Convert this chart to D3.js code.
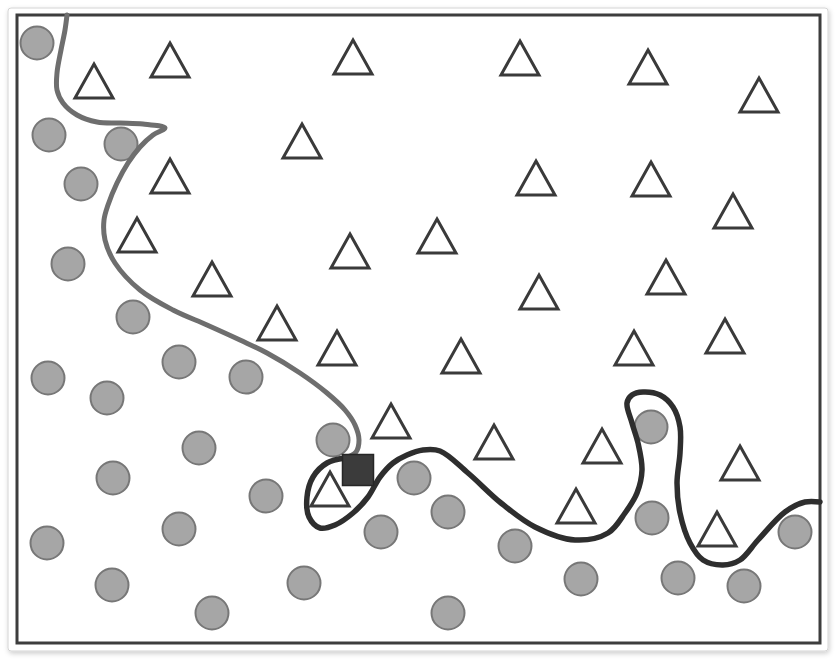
<!DOCTYPE html>
<html>
<head>
<meta charset="utf-8">
<script src="https://cdn.jsdelivr.net/npm/d3@7/dist/d3.min.js"></script>
<style>
  html, body { margin: 0; padding: 0; background: #ffffff; }
  svg { display: block; }
</style>
</head>
<body>
<svg id="chart" width="838" height="662"></svg>
<script>
// ---- Data (x, y in data units; y grows upward) ----
const circlesX = [2.0, 3.2, 10.4, 6.4, 5.1, 11.6, 3.1, 9.0, 16.2, 22.9, 18.2, 9.6, 24.9, 16.2, 3.0, 9.5, 19.5, 28.7, 31.6, 39.7, 43.1, 36.4, 49.8, 43.1, 56.4, 63.4, 63.5, 66.1, 72.7, 77.8];
const circlesY = [60.0, 50.8, 49.9, 45.9, 37.9, 32.6, 26.5, 24.5, 28.1, 26.6, 19.5, 16.5, 14.7, 11.4, 10.0, 5.8, 3.0, 6.0, 20.3, 16.5, 13.1, 11.1, 9.7, 3.0, 6.4, 21.6, 12.5, 6.5, 5.7, 11.1];

const trianglesX = [7.7, 15.3, 33.6, 28.5, 15.3, 12.0, 19.5, 33.3, 26.0, 50.3, 63.1, 74.2, 51.9, 63.4, 71.6, 42.0, 52.2, 64.9, 32.0, 37.4, 31.3, 44.4, 61.7, 70.8, 47.7, 58.5, 55.9, 72.3, 70.0];
const trianglesY = [56.2, 58.3, 58.6, 50.2, 46.7, 40.8, 36.4, 39.2, 32.0, 58.5, 57.6, 54.8, 46.5, 46.4, 43.2, 40.7, 35.1, 36.6, 29.5, 22.2, 15.4, 28.7, 29.5, 30.7, 20.1, 19.7, 13.7, 18.0, 11.4];

const squareX = [34.1];
const squareY = [17.3];

// decision boundary: upper (lighter) part and lower (darker) part
const boundaryUpperX = [5.0, 4.8, 4.4, 4.0, 4.0, 4.6, 6.0, 8.0, 10.3, 12.6, 14.8, 13.6, 12.3, 11.1, 10.0, 9.1, 8.7, 8.8, 9.8, 12.3, 15.6, 19.0, 22.3, 25.0, 28.3, 31.0, 32.8, 33.8, 34.2, 33.9, 32.8];
const boundaryUpperY = [62.8, 61.3, 59.3, 57.0, 55.3, 54.0, 52.8, 52.1, 52.0, 51.9, 51.5, 50.8, 49.6, 48.0, 46.0, 43.8, 42.3, 40.3, 38.0, 35.3, 33.3, 31.8, 30.3, 29.0, 27.0, 25.0, 23.3, 21.8, 20.3, 19.1, 18.5];

const boundaryLowerX = [32.8, 31.0, 29.6, 29.0, 29.2, 30.3, 31.8, 33.6, 35.1, 36.3, 37.6, 39.0, 40.6, 42.3, 45.1, 48.4, 51.8, 55.8, 59.1, 60.8, 62.0, 62.5, 62.1, 61.5, 61.0, 61.5, 62.6, 64.3, 65.6, 66.3, 66.3, 66.0, 66.3, 67.3, 68.6, 70.6, 72.3, 74.1, 76.8, 78.8, 80.3];
const boundaryLowerY = [18.5, 18.0, 16.6, 14.6, 12.6, 11.5, 11.8, 13.0, 14.6, 16.6, 18.0, 18.8, 19.3, 19.2, 17.0, 14.0, 11.6, 10.3, 11.0, 13.0, 15.0, 17.3, 20.0, 22.0, 24.0, 24.8, 25.1, 24.8, 23.6, 21.6, 19.0, 16.0, 13.0, 10.0, 8.3, 7.8, 8.3, 10.3, 13.1, 14.1, 14.1];

const xDomain = [0, 80.3];
const yDomain = [0, 62.8];

// ---- Drawing ----
const svg = d3.select("#chart");
const defs = svg.append("defs");
const flt = defs.append("filter").attr("id", "shadow")
  .attr("x", "-5%").attr("y", "-5%").attr("width", "110%").attr("height", "110%");
flt.append("feDropShadow").attr("dx", 1).attr("dy", 2).attr("stdDeviation", 2.5)
  .attr("flood-color", "#000").attr("flood-opacity", 0.2);

// card
svg.append("rect")
  .attr("x", 8).attr("y", 8).attr("width", 820).attr("height", 643)
  .attr("rx", 3)
  .attr("fill", "#ffffff").attr("stroke", "#d4d4d4").attr("stroke-width", 1)
  .attr("filter", "url(#shadow)");

const x = d3.scaleLinear().domain(xDomain).range([17, 820]);
const y = d3.scaleLinear().domain(yDomain).range([643, 15]);

// frame
svg.append("rect")
  .attr("x", x.range()[0]).attr("y", y.range()[1])
  .attr("width", x.range()[1] - x.range()[0])
  .attr("height", y.range()[0] - y.range()[1])
  .attr("fill", "none").attr("stroke", "#3d3d3d").attr("stroke-width", 3);

const line = d3.line()
  .x(d => x(d[0])).y(d => y(d[1]))
  .curve(d3.curveCatmullRom.alpha(0.5));

const upper = boundaryUpperX.map((v, i) => [v, boundaryUpperY[i]]);
const lower = boundaryLowerX.map((v, i) => [v, boundaryLowerY[i]]);

// circles
svg.append("g").selectAll("circle")
  .data(circlesX.map((v, i) => [v, circlesY[i]]))
  .join("circle")
  .attr("cx", d => x(d[0])).attr("cy", d => y(d[1]))
  .attr("r", 16.5)
  .attr("fill", "#a6a6a6").attr("stroke", "#777777").attr("stroke-width", 2);

// triangles
const tw = 38, th = 34;
const triPath = `M0,${-th/2}L${tw/2},${th/2}L${-tw/2},${th/2}Z`;
svg.append("g").selectAll("path")
  .data(trianglesX.map((v, i) => [v, trianglesY[i]]))
  .join("path")
  .attr("d", triPath)
  .attr("transform", d => `translate(${x(d[0])},${y(d[1])})`)
  .attr("fill", "#ffffff").attr("stroke", "#3a3a3a").attr("stroke-width", 3)
  .attr("stroke-linejoin", "miter");

// boundary curves
svg.append("path").datum(upper)
  .attr("d", line).attr("fill", "none")
  .attr("stroke", "#6e6e6e").attr("stroke-width", 5)
  .attr("stroke-linecap", "round").attr("stroke-linejoin", "round");
svg.append("path").datum(lower)
  .attr("d", line).attr("fill", "none")
  .attr("stroke", "#2e2e2e").attr("stroke-width", 5.5)
  .attr("stroke-linecap", "round").attr("stroke-linejoin", "round");

// square (query point)
const sq = 31;
svg.append("g").selectAll("rect")
  .data(squareX.map((v, i) => [v, squareY[i]]))
  .join("rect")
  .attr("x", d => x(d[0]) - sq/2).attr("y", d => y(d[1]) - sq/2)
  .attr("width", sq).attr("height", sq)
  .attr("fill", "#3b3b3b").attr("stroke", "#262626").attr("stroke-width", 1.5);
</script>
</body>
</html>
